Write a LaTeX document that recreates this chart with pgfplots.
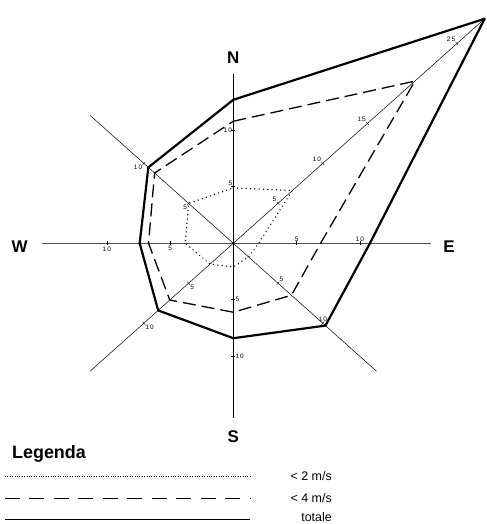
\documentclass[border=0pt]{standalone}
\usepackage{fontspec}
\setmainfont{Liberation Sans}
\usepackage{pgfplots}
\pgfplotsset{compat=1.18}

\pgfplotsset{
  ray/.style={black, line width=0.5bp, no marks, data cs=polar},
  tk/.style={only marks, black, mark size=2bp, mark options={line width=0.6bp}, data cs=polar},
}
\newcommand{\tl}{\fontsize{6.5}{7}\selectfont}

\begin{document}
\begin{tikzpicture}
\useasboundingbox (0,0) rectangle (487bp,524bp);
\begin{axis}[
  at={(233.3bp,280.7bp)}, anchor=origin,
  x=12.65bp, y=11.3bp,
  xmin=-18.4, xmax=20, ymin=-24.8, ymax=21.5,
  hide axis, clip=false,
]
% the eight rays
\addplot[ray] coordinates {(90,15) (270,15.5)};
\addplot[ray, gray!60!black, line width=0.9bp] coordinates {(0,15.6) (180,15.1)};
\addplot[ray] coordinates {(45,28.1) (225,16)};
\addplot[ray] coordinates {(135,16) (315,16)};

% ticks
\addplot[tk, mark=-] coordinates {(90,5) (90,10) (270,5) (270,10)};
\addplot[tk, mark=|] coordinates {(0,5) (0,10) (180,5) (180,10)};
\addplot[tk, mark=|, mark options={rotate=41.8}] coordinates {(45,5) (45,10) (45,15) (45,20) (45,25) (225,5) (225,10)};
\addplot[tk, mark=|, mark options={rotate=-41.8}] coordinates {(135,5) (135,10) (315,5) (315,10)};

% < 2 m/s
\addplot[black, line width=1.5bp, line cap=round, dash pattern=on 0.01bp off 4.3bp, no marks, data cs=polar]
  coordinates {(90,4.9) (45,6.6) (0,2.0) (-45,1.7) (-90,2.1) (-135,2.6) (180,3.8) (135,5.0) (90,4.9)};
% < 4 m/s
\addplot[black, line width=1.3bp, dash pattern=on 13bp off 6bp, no marks, data cs=polar]
  coordinates {(90,10.8) (45,20.3) (0,6.9) (-45,6.5) (-90,6.1) (-135,7.1) (180,6.7) (135,8.8) (90,10.8)};
% totale
\addplot[black, line width=2.2bp, line join=round, no marks, data cs=polar]
  coordinates {(90,12.7) (45,28.1) (0,10.8) (-45,10.3) (-90,8.4) (-135,8.4) (180,7.4) (135,9.5) (90,12.7)};

% tick labels
\node[anchor=south east, inner sep=1bp] at (axis cs:0,5) {\tl 5};
\node[anchor=east, inner sep=1bp] at (axis cs:0,10) {\tl 1\,0};
\node[anchor=west, inner sep=2bp] at (axis cs:0,-5) {\tl 5};
\node[anchor=west, inner sep=2bp] at (axis cs:0,-10) {\tl 1\,0};
\node[anchor=south, inner sep=2bp] at (axis cs:5,0) {\tl 5};
\node[anchor=south, inner sep=2bp] at (axis cs:10,0) {\tl 1\,0};
\node[anchor=north, inner sep=3bp] at (axis cs:-5,0) {\tl 5};
\node[anchor=north, inner sep=3bp] at (axis cs:-10,0) {\tl 1\,0};
\node[anchor=south east, inner sep=1.5bp] at (axis cs:3.536,3.536) {\tl 5};
\node[anchor=south east, inner sep=1.5bp] at (axis cs:7.071,7.071) {\tl 1\,0};
\node[anchor=south east, inner sep=1.5bp] at (axis cs:10.607,10.607) {\tl 1\,5};
\node[anchor=south east, inner sep=1.5bp] at (axis cs:17.678,17.678) {\tl 2\,5};
\node[anchor=north east, inner sep=1.5bp] at (axis cs:-3.536,3.536) {\tl 5};
\node[anchor=north east, inner sep=1.5bp] at (axis cs:-7.071,7.071) {\tl 1\,0};
\node[anchor=north west, inner sep=1.5bp] at (axis cs:-3.536,-3.536) {\tl 5};
\node[anchor=north west, inner sep=1.5bp] at (axis cs:-7.071,-7.071) {\tl 1\,0};
\node[anchor=south west, inner sep=1.5bp] at (axis cs:3.536,-3.536) {\tl 5};
\node[anchor=south, inner sep=1.5bp] at (axis cs:7.071,-7.071) {\tl 1\,0};

% compass letters
\node[font=\fontsize{17}{17}\selectfont\bfseries] at (axis cs:0,16.4) {N};
\node[font=\fontsize{17}{17}\selectfont\bfseries] at (axis cs:-16.9,-0.33) {W};
\node[font=\fontsize{17}{17}\selectfont\bfseries] at (axis cs:17.05,-0.33) {E};
\node[font=\fontsize{17}{17}\selectfont\bfseries] at (axis cs:0,-17.1) {S};

% legend
\node[anchor=west, inner sep=0pt, font=\fontsize{18}{18}\selectfont\bfseries] at (axis cs:-17.5,-18.65) {Legenda};
\draw[black, line width=0.8bp, dash pattern=on 0.8bp off 1.6bp] (axis cs:-18.05,-20.6) -- (axis cs:1.32,-20.6);
\draw[black, line width=1bp, dash pattern=on 15bp off 9.5bp] (axis cs:-18.05,-22.55) -- (axis cs:1.32,-22.55);
\draw[black, line width=1bp] (axis cs:-18.05,-24.4) -- (axis cs:1.32,-24.4);
\node[anchor=east, inner sep=0pt, font=\fontsize{12.5}{13}\selectfont] at (axis cs:7.8,-20.6) {< 2 m/s};
\node[anchor=east, inner sep=0pt, font=\fontsize{12.5}{13}\selectfont] at (axis cs:7.8,-22.55) {< 4 m/s};
\node[anchor=base east, inner sep=0pt, font=\fontsize{12.5}{13}\selectfont] at (axis cs:7.8,-24.65) {totale};
\end{axis}
\end{tikzpicture}
\end{document}
